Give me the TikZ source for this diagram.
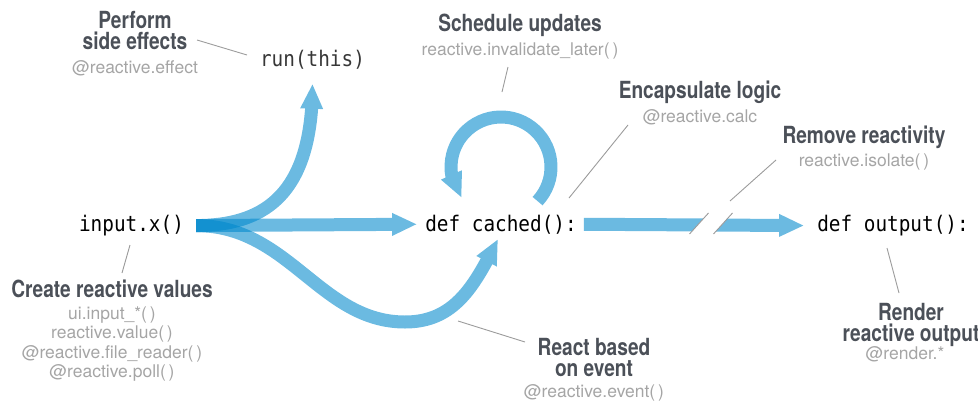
\documentclass[tikz,border=0pt]{standalone}
\usepackage{fontspec}
\setmainfont{TeX Gyre Heros}
\newfontfamily\monocond[FakeStretch=0.9]{DejaVu Sans Mono}
\newfontfamily\heroscond[FakeStretch=0.81]{TeX Gyre Heros}
\newcommand{\cdfont}{\monocond\fontsize{21.5}{24}\selectfont}
\newcommand{\ttlfont}{\heroscond\bfseries\fontsize{23.6}{21}\selectfont}
\newcommand{\apfont}{\fontsize{17.5}{19.5}\selectfont}
\usetikzlibrary{arrows.meta, bending}
\definecolor{flowblue}{RGB}{0,136,204}
\definecolor{titlegray}{RGB}{75,80,88}
\definecolor{apigray}{RGB}{165,165,165}
\definecolor{leadgray}{RGB}{155,155,155}
\definecolor{codegray}{RGB}{55,55,55}

\begin{document}
\begin{tikzpicture}[x=1pt, y=-1pt,
    codebox/.style={font=\cdfont, inner sep=0pt, anchor=base},
    titletext/.style={font=\ttlfont, text=titlegray, align=center, inner sep=0pt, anchor=north},
    apitext/.style={font=\apfont, text=apigray, align=center, inner sep=0pt, anchor=north},
    flowarrow/.style={draw=flowblue, line width=13pt, -{Triangle[length=25pt, width=21pt]}},
    fadegroup/.style={transparency group, opacity=0.58},
    leaderline/.style={draw=leadgray, line width=0.9pt}]
    \useasboundingbox (0,0) rectangle (978,405);

    % code
    \node[codebox] (input) at (131.5,231.5) {input.x()};
    \node[codebox] (cached) at (501,231) {def cached():};
    \node[codebox] (output) at (893,231.5) {def output():};
    \node[codebox, text=codegray] (run) at (312.5,66.7) {run(this)};

    \coordinate (fork) at ([xshift=12pt]input.east);
    \coordinate (dip) at (405,322);
    \coordinate (loop) at (501,167);

    % reactive flow
    \begin{scope}[fadegroup]
        \draw[flowarrow] (fork) -- ([xshift=-8pt]cached.west);
    \end{scope}
    \begin{scope}[fadegroup]
        \draw[flowarrow] (fork) .. controls +(72,0) and +(0,107) .. ([yshift=-14pt]run.south);
    \end{scope}
    \begin{scope}[fadegroup]
        \draw[flowarrow] (fork) .. controls +(93,0) and +(-85,0) .. (dip)
            .. controls +(50,0) and +(-23,46) .. ([xshift=-3pt,yshift=-5pt]cached.south);
    \end{scope}
    \begin{scope}[fadegroup]
        \draw[flowarrow] (loop) ++(43:50) arc[start angle=43, end angle=-218, radius=50];
    \end{scope}
    \begin{scope}[fadegroup]
        \draw[flowarrow] ([xshift=7pt]cached.east) -- ([xshift=-13pt]output.west);
    \end{scope}
    \fill[white] (689.5,234) -- (708.5,213) -- (732.5,213) -- (713.5,234) -- cycle;
    \draw[leaderline] (689.5,234) -- (708.5,213) (713.5,234) -- (732.5,213);

    % labels
    \node[titletext] (effect) at (135,11) {Perform\\side effects};
    \node[apitext] (effectapi) at (135,60) {@reactive.effect};
    \node[titletext] (schedule) at (520,13.5) {Schedule updates};
    \node[apitext] (scheduleapi) at (520,42.2) {reactive.invalidate\_later(\,)};
    \node[titletext] (calc) at (700,80.8) {Encapsulate logic};
    \node[apitext] (calcapi) at (700,109) {@reactive.calc};
    \node[titletext] (isolate) at (864,125.5) {Remove reactivity};
    \node[apitext] (isolateapi) at (864,154) {reactive.isolate(\,)};
    \node[titletext] (values) at (112,279.5) {Create reactive values};
    \node[apitext] (valuesapi) at (112,306.5) {ui.input\_*(\,)\\reactive.value(\,)\\@reactive.file\_reader(\,)\\@reactive.poll(\,)};
    \node[titletext] (event) at (594,337.8) {React based\\on event};
    \node[apitext] (eventapi) at (594,384) {@reactive.event(\,)};
    \node[titletext] (render) at (911,302.8) {Render\\reactive output};
    \node[apitext] (renderapi) at (905,346.2) {@render.*};

    % leaders
    \coordinate (effectA) at (197,40);
    \coordinate (effectB) at (247,55);
    \coordinate (scheduleA) at (508,67);
    \coordinate (scheduleB) at (502,92);
    \coordinate (calcA) at (628,125);
    \coordinate (calcB) at (569,198);
    \coordinate (isolateA) at (776,160);
    \coordinate (isolateB) at (730,201);
    \coordinate (valuesA) at (130,245);
    \coordinate (valuesB) at (122,273);
    \coordinate (eventA) at (458,321);
    \coordinate (eventB) at (525,342);
    \coordinate (renderA) at (887,248);
    \coordinate (renderB) at (899,293);
    \draw[leaderline] (effectA) -- (effectB);
    \draw[leaderline] (scheduleA) -- (scheduleB);
    \draw[leaderline] (calcA) -- (calcB);
    \draw[leaderline] (isolateA) -- (isolateB);
    \draw[leaderline] (valuesA) -- (valuesB);
    \draw[leaderline] (eventA) -- (eventB);
    \draw[leaderline] (renderA) -- (renderB);
\end{tikzpicture}
\end{document}
